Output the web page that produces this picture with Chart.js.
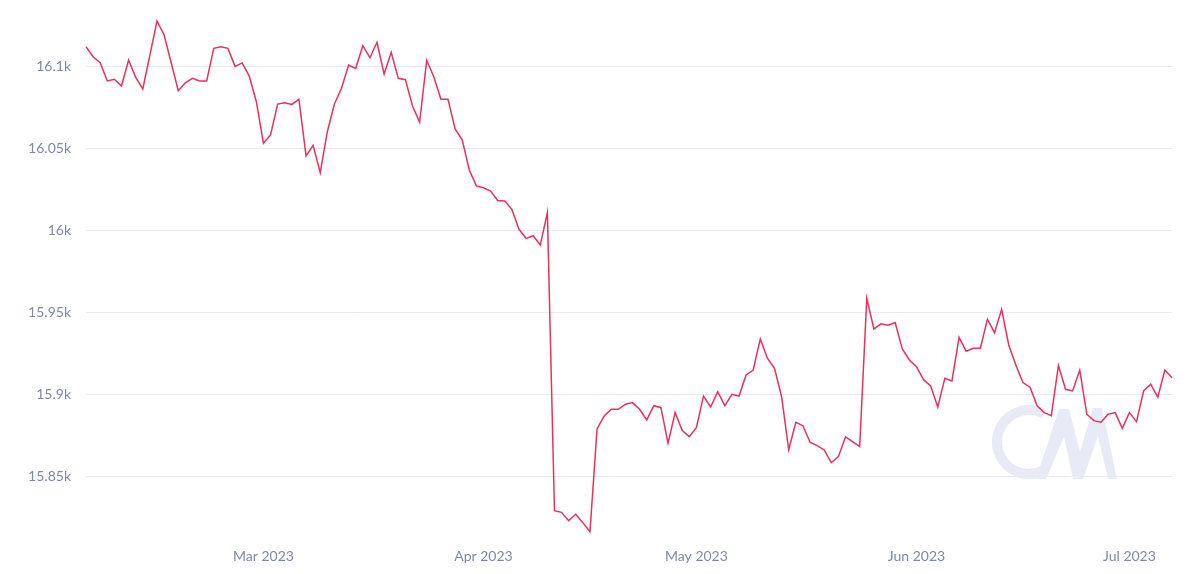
<!DOCTYPE html>
<html>
<head>
<meta charset="utf-8">
<script src="https://cdn.jsdelivr.net/npm/chart.js@4/dist/chart.umd.min.js"></script>
<style>
  html, body { margin: 0; padding: 0; background: #fff; }
  #wrap { width: 1200px; height: 574px; }
</style>
</head>
<body>
<div id="wrap"><canvas id="chart"></canvas></div>
<script>
// daily values, 4 Feb 2023 .. 7 Jul 2023
const startDate = '2023-02-04';
const values = [
  16112.2, 16106.1, 16102.4, 16091.3, 16092.3, 16088.2, 16104.1, 16093.5, 16086.4, 16107.1,
  16127.9, 16119.5, 16102.4, 16085.3, 16090.2, 16092.9, 16091.3, 16091.3, 16111.2, 16112.2,
  16111.2, 16100.2, 16102.3, 16094.3, 16078.6, 16053.2, 16058.3, 16077.2, 16078.0, 16077.0,
  16080.1, 16045.5, 16052.0, 16035.3, 16060.3, 16077.2, 16086.8, 16101.0, 16099.0, 16112.8,
  16105.5, 16114.9, 16095.5, 16108.8, 16092.9, 16092.1, 16076.0, 16066.2, 16103.9, 16093.9,
  16080.1, 16080.1, 16062.0, 16055.3, 16036.9, 16027.2, 16026.1, 16024.1, 16018.3, 16018.0,
  16012.9, 16000.7, 15995.2, 15996.8, 15991.1, 16010.9, 15828.9, 15827.9, 15822.8, 15826.7,
  15821.6, 15816.1, 15878.8, 15886.7, 15890.8, 15890.8, 15893.9, 15894.9, 15890.8, 15884.3,
  15893.0, 15891.8, 15870.1, 15888.8, 15877.8, 15874.1, 15879.7, 15898.8, 15892.2, 15901.6,
  15893.0, 15900.0, 15898.9, 15911.8, 15914.8, 15933.8, 15922.0, 15915.9, 15898.5, 15866.0,
  15882.9, 15880.8, 15870.7, 15868.6, 15866.0, 15858.2, 15861.9, 15873.9, 15871.1, 15868.0,
  15958.6, 15939.9, 15943.0, 15942.2, 15943.8, 15927.7, 15920.9, 15916.8, 15908.9, 15905.1,
  15892.2, 15909.8, 15908.1, 15934.7, 15926.3, 15928.1, 15928.1, 15945.8, 15937.6, 15951.9,
  15930.1, 15917.9, 15907.1, 15904.3, 15892.9, 15888.8, 15886.9, 15917.5, 15903.0, 15902.0,
  15914.8, 15887.8, 15883.9, 15882.9, 15887.8, 15888.8, 15879.2, 15888.8, 15883.3, 15902.0,
  15906.1, 15898.2, 15914.8, 15910.1
];
const monthNames = ['Jan', 'Feb', 'Mar', 'Apr', 'May', 'Jun', 'Jul', 'Aug', 'Sep', 'Oct', 'Nov', 'Dec'];
const yMin = 15811;
const yMax = 16133.4;

const dates = [];
const d0 = new Date(startDate + 'T00:00:00Z');
for (let i = 0; i < values.length; i++) {
  dates.push(new Date(d0.getTime() + i * 86400000));
}

// faint "CM" logo behind the line
const watermark = {
  id: 'watermark',
  beforeDatasetsDraw(chart) {
    const { ctx, chartArea } = chart;
    const bx = chartArea.right, by = chartArea.bottom;
    ctx.save();
    ctx.strokeStyle = '#e8ebf5';
    ctx.fillStyle = '#e8ebf5';
    ctx.lineWidth = 10;
    ctx.beginPath();
    ctx.arc(bx - 143, by - 98, 32, 62 * Math.PI / 180, 298 * Math.PI / 180);
    ctx.stroke();
    const m = [
      [-136, -61], [-113, -131], [-103, -131], [-92, -88], [-79, -132], [-70, -132],
      [-55, -61], [-64, -61], [-74, -104], [-89, -61], [-99, -61], [-108, -103], [-126, -61]
    ];
    ctx.beginPath();
    m.forEach(([px, py], i) => i ? ctx.lineTo(bx + px, by + py) : ctx.moveTo(bx + px, by + py));
    ctx.closePath();
    ctx.fill();
    ctx.restore();
  }
};

new Chart(document.getElementById('chart'), {
  type: 'line',
  data: {
    labels: dates,
    datasets: [{
      data: values,
      borderColor: '#e8315d',
      borderWidth: 1.5,
      pointRadius: 0,
      tension: 0,
      fill: false
    }]
  },
  options: {
    responsive: true,
    maintainAspectRatio: false,
    animation: false,
    layout: { padding: { top: 12, right: 28, left: 0, bottom: 0 } },
    plugins: { legend: { display: false }, tooltip: { enabled: false } },
    scales: {
      x: {
        type: 'category',
        offset: false,
        grid: { display: false, drawTicks: false },
        border: { display: false },
        afterFit: s => { s.height = 34; },
        ticks: {
          autoSkip: false,
          maxRotation: 0,
          padding: 8,
          color: '#8089a6',
          font: { family: 'Lato', size: 14 },
          callback: function (v, i) {
            const d = dates[i];
            return d.getUTCDate() === 1 ? monthNames[d.getUTCMonth()] + ' ' + d.getUTCFullYear() : '';
          }
        }
      },
      y: {
        min: yMin,
        max: yMax,
        border: { display: false },
        grid: { color: '#e8ebf3', lineWidth: 1, drawTicks: false },
        afterFit: s => { s.width = 86; s.paddingTop = 0; s.paddingBottom = 0; },
        ticks: {
          stepSize: 50,
          includeBounds: false,
          padding: 15,
          color: '#8089a6',
          font: { family: 'Lato', size: 14 },
          callback: v => (v / 1000) + 'k'
        }
      }
    }
  },
  plugins: [watermark]
});
</script>
</body>
</html>
